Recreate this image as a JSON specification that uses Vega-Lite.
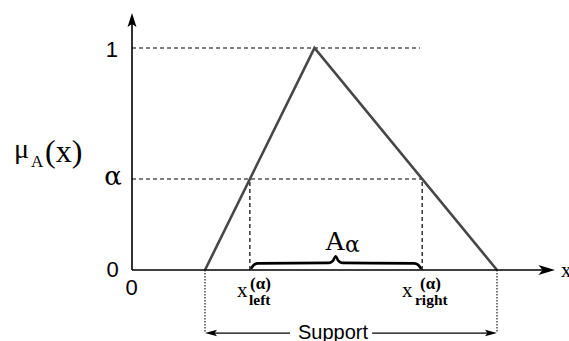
{
  "$schema": "https://vega.github.io/schema/vega-lite/v6.json",
  "width": 569,
  "height": 341,
  "padding": 0,
  "autosize": {"type": "none"},
  "background": "white",
  "config": {"view": {"stroke": null}},
  "encoding": {
    "x": {"field": "x", "type": "quantitative", "axis": null, "scale": {"domain": [-3.6164, 11.9726], "nice": false, "zero": false}},
    "y": {"field": "y", "type": "quantitative", "axis": null, "scale": {"domain": [-0.3198, 1.2162], "nice": false, "zero": false}}
  },
  "layer": [
    {
      "data": {"values": [{"x": 0, "y": 1, "x2": 7.89}, {"x": 0, "y": 0.41, "x2": 7.95}]},
      "mark": {"type": "rule", "color": "black", "strokeWidth": 1.2, "strokeDash": [4, 3]},
      "encoding": {"x2": {"field": "x2"}}
    },
    {
      "data": {"values": [{"x": 3.23, "y": 0, "y2": 0.41}, {"x": 7.95, "y": 0, "y2": 0.41}]},
      "mark": {"type": "rule", "color": "black", "strokeWidth": 1.2, "strokeDash": [4, 3]},
      "encoding": {"y2": {"field": "y2"}}
    },
    {
      "data": {"values": [{"x": 2, "y": 0, "y2": -0.284}, {"x": 10, "y": 0, "y2": -0.284}]},
      "mark": {"type": "rule", "color": "#333", "strokeWidth": 1.3, "strokeDash": [1.5, 1.5]},
      "encoding": {"y2": {"field": "y2"}}
    },
    {
      "data": {"values": [{"x": 2, "y": 0}, {"x": 5, "y": 1}, {"x": 10, "y": 0}]},
      "mark": {"type": "line", "color": "#474747", "strokeWidth": 2.6},
      "encoding": {}
    },
    {
      "data": {"values": [{"x": 0, "y": 0, "x2": 11.4}]},
      "mark": {"type": "rule", "color": "black", "strokeWidth": 1.6},
      "encoding": {"x2": {"field": "x2"}}
    },
    {
      "data": {"values": [{"x": 0, "y": 0, "y2": 1.12}]},
      "mark": {"type": "rule", "color": "black", "strokeWidth": 1.6},
      "encoding": {"y2": {"field": "y2"}}
    },
    {
      "data": {"values": [{"x": 2.1, "y": -0.284, "x2": 4.33}, {"x": 6.58, "y": -0.284, "x2": 9.9}]},
      "mark": {"type": "rule", "color": "black", "strokeWidth": 1.3},
      "encoding": {"x2": {"field": "x2"}}
    },
    {
      "data": {"values": [{"x": 11.589, "y": 0}]},
      "mark": {"type": "point", "shape": "M0,0 L-1,-0.3 L-0.75,0 L-1,0.3 Z", "filled": true, "color": "black", "size": 1100, "opacity": 1},
      "encoding": {}
    },
    {
      "data": {"values": [{"x": 0, "y": 1.158}]},
      "mark": {"type": "point", "shape": "M0,0 L-1,-0.32 L-0.8,0 L-1,0.32 Z", "filled": true, "color": "black", "size": 784, "angle": 270, "opacity": 1},
      "encoding": {}
    },
    {
      "data": {"values": [{"x": 10, "y": -0.284}]},
      "mark": {"type": "point", "shape": "M0,0 L-1,-0.27 L-0.8,0 L-1,0.27 Z", "filled": true, "color": "black", "size": 576, "opacity": 1},
      "encoding": {}
    },
    {
      "data": {"values": [{"x": 2, "y": -0.284}]},
      "mark": {"type": "point", "shape": "M0,0 L-1,-0.27 L-0.8,0 L-1,0.27 Z", "filled": true, "color": "black", "size": 576, "angle": 180, "opacity": 1},
      "encoding": {}
    },
    {
      "data": {"values": [
        {"x": 3.26, "y": 0.005}, {"x": 3.34, "y": 0.023}, {"x": 3.45, "y": 0.03},
        {"x": 5.40, "y": 0.032}, {"x": 5.51, "y": 0.042}, {"x": 5.58, "y": 0.062},
        {"x": 5.65, "y": 0.042}, {"x": 5.76, "y": 0.032}, {"x": 7.73, "y": 0.03},
        {"x": 7.84, "y": 0.023}, {"x": 7.92, "y": 0.005}
      ]},
      "mark": {"type": "line", "color": "black", "strokeWidth": 2.6, "interpolate": "monotone"},
      "encoding": {}
    },
    {
      "data": {"values": [
        {"x": -0.55, "y": 0.99, "t": "1"},
        {"x": -0.53, "y": -0.002, "t": "0"},
        {"x": -0.01, "y": -0.079, "t": "0"}
      ]},
      "mark": {"type": "text", "font": "Liberation Sans", "fontSize": 22, "align": "center", "baseline": "middle", "color": "black"},
      "encoding": {"text": {"field": "t"}}
    },
    {
      "data": {"values": [{"x": 5.507, "y": -0.311, "t": "Support"}]},
      "mark": {"type": "text", "font": "Liberation Sans", "fontSize": 20, "align": "center", "baseline": "alphabetic", "color": "black"},
      "encoding": {"text": {"field": "t"}}
    },
    {
      "data": {"values": [{"x": -0.52, "y": 0.41, "t": "α"}]},
      "mark": {"type": "text", "font": "DejaVu Serif", "fontSize": 26, "align": "center", "baseline": "middle", "dy": -2, "color": "black"},
      "encoding": {"text": {"field": "t"}}
    },
    {
      "data": {"values": [{"x": -3.233, "y": 0.5045, "t": "μ"}]},
      "mark": {"type": "text", "font": "Liberation Serif", "fontSize": 28, "align": "left", "baseline": "alphabetic", "color": "black"},
      "encoding": {"text": {"field": "t"}}
    },
    {
      "data": {"values": [{"x": -2.384, "y": 0.4865, "t": "(x)"}]},
      "mark": {"type": "text", "font": "Liberation Serif", "fontSize": 32, "align": "left", "baseline": "alphabetic", "color": "black"},
      "encoding": {"text": {"field": "t"}}
    },
    {
      "data": {"values": [{"x": 5.288, "y": 0.09, "t": "A"}]},
      "mark": {"type": "text", "font": "Liberation Serif", "fontSize": 28, "align": "left", "baseline": "alphabetic", "color": "black"},
      "encoding": {"text": {"field": "t"}}
    },
    {
      "data": {"values": [{"x": -2.767, "y": 0.464, "t": "A"}]},
      "mark": {"type": "text", "font": "Liberation Serif", "fontSize": 17, "align": "left", "baseline": "alphabetic", "color": "black"},
      "encoding": {"text": {"field": "t"}}
    },
    {
      "data": {"values": [{"x": 5.836, "y": 0.081, "t": "α"}]},
      "mark": {"type": "text", "font": "DejaVu Serif", "fontSize": 22, "align": "left", "baseline": "alphabetic", "color": "black"},
      "encoding": {"text": {"field": "t"}}
    },
    {
      "data": {"values": [
        {"x": 2.877, "y": -0.122, "t": "x"},
        {"x": 7.397, "y": -0.122, "t": "x"},
        {"x": 11.75, "y": -0.032, "t": "x"}
      ]},
      "mark": {"type": "text", "font": "Liberation Serif", "fontSize": 21, "align": "left", "baseline": "alphabetic", "color": "black"},
      "encoding": {"text": {"field": "t"}}
    },
    {
      "data": {"values": [
        {"x": 3.233, "y": -0.0856, "t": "(α)"},
        {"x": 7.89, "y": -0.0856, "t": "(α)"}
      ]},
      "mark": {"type": "text", "font": "Liberation Serif", "fontSize": 17, "fontWeight": "bold", "align": "left", "baseline": "alphabetic", "color": "black"},
      "encoding": {"text": {"field": "t"}}
    },
    {
      "data": {"values": [
        {"x": 3.205, "y": -0.158, "t": "left"},
        {"x": 7.753, "y": -0.158, "t": "right"}
      ]},
      "mark": {"type": "text", "font": "Liberation Serif", "fontSize": 15.5, "fontWeight": "bold", "align": "left", "baseline": "alphabetic", "color": "black"},
      "encoding": {"text": {"field": "t"}}
    }
  ]
}
